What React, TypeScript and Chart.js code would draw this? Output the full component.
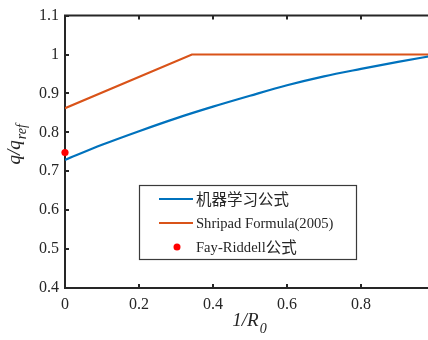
import React, { useEffect, useRef } from "react";
import { Chart, registerables } from "chart.js";

Chart.register(...registerables);

// ---- data ----
const mlX = [0, 0.1, 0.2, 0.3, 0.4, 0.5, 0.6, 0.7, 0.8, 0.9, 1.0];
const mlY = [0.729, 0.768, 0.803, 0.836, 0.866, 0.894, 0.921, 0.944, 0.963, 0.981, 0.998];
const shripadX = [0, 0.343, 1.0];
const shripadY = [0.862, 1.0, 1.0];
const fayX = [0];
const fayY = [0.748];
const legendLabels = ["机器学习公式", "Shripad Formula(2005)", "Fay-Riddell公式"];
const xTickValues = [0, 0.2, 0.4, 0.6, 0.8];
const xTickLabels = ["0", "0.2", "0.4", "0.6", "0.8"];
const yTickValues = [0.4, 0.5, 0.6, 0.7, 0.8, 0.9, 1.0, 1.1];
const yTickLabels = ["0.4", "0.5", "0.6", "0.7", "0.8", "0.9", "1", "1.1"];

const AXIS = "#262626";
const SERIF = '"Liberation Serif", "Times New Roman", serif';
const CJK = '"Noto Sans CJK SC", sans-serif';

function drawMixed(ctx: any, text: string, x: number, y: number) {
  const parts = text.split(/([\u4e00-\u9fff]+)/).filter((p) => p.length > 0);
  let cx = x;
  parts.forEach((p) => {
    const isCjk = /[\u4e00-\u9fff]/.test(p);
    ctx.font = isCjk ? "15.5px " + CJK : "14.6px " + SERIF;
    ctx.fillText(p, cx, isCjk ? y : y + 1);
    cx += ctx.measureText(p).width;
  });
}

const decor = {
  id: "decor",
  afterDraw(chart: any) {
    const ctx = chart.ctx;
    const { left, right, top, bottom } = chart.chartArea;
    const xs = chart.scales.x;
    const ys = chart.scales.y;
    ctx.save();
    ctx.strokeStyle = AXIS;
    ctx.lineWidth = 2;
    // top border
    ctx.beginPath();
    ctx.moveTo(left - 1, top);
    ctx.lineTo(right + 1, top);
    ctx.stroke();
    // right border
    ctx.beginPath();
    ctx.moveTo(right, top);
    ctx.lineTo(right, bottom);
    ctx.stroke();
    // inward ticks
    const tl = 4;
    ctx.beginPath();
    xTickValues.forEach((v) => {
      const px = Math.round(xs.getPixelForValue(v));
      ctx.moveTo(px, bottom);
      ctx.lineTo(px, bottom - tl);
      ctx.moveTo(px, top);
      ctx.lineTo(px, top + tl);
    });
    yTickValues.forEach((v) => {
      const py = Math.round(ys.getPixelForValue(v));
      ctx.moveTo(left, py);
      ctx.lineTo(left + tl, py);
      ctx.moveTo(right, py);
      ctx.lineTo(right - tl, py);
    });
    ctx.stroke();

    // axis titles
    ctx.fillStyle = AXIS;
    ctx.textBaseline = "alphabetic";
    ctx.font = "italic 19px " + SERIF;
    const main = "1/R";
    const wMain = ctx.measureText(main).width;
    ctx.font = "italic 14px " + SERIF;
    const wSub = ctx.measureText("0").width;
    const cx = (left + right) / 2 - 1;
    const startX = cx - (wMain + wSub) / 2;
    ctx.font = "italic 19px " + SERIF;
    ctx.textAlign = "left";
    ctx.fillText(main, startX, 326);
    ctx.font = "italic 14px " + SERIF;
    ctx.fillText("0", startX + wMain + 1, 333);

    // y title rotated
    ctx.save();
    ctx.translate(20, (top + bottom) / 2 - 7);
    ctx.rotate(-Math.PI / 2);
    ctx.font = "italic 19px " + SERIF;
    const yMain = "q/q";
    const wyMain = ctx.measureText(yMain).width;
    ctx.font = "italic 14px " + SERIF;
    const wySub = ctx.measureText("ref").width;
    const sy = -(wyMain + wySub) / 2;
    ctx.font = "italic 19px " + SERIF;
    ctx.fillText(yMain, sy, 0);
    ctx.font = "italic 14px " + SERIF;
    ctx.fillText("ref", sy + wyMain + 1, 6);
    ctx.restore();

    // legend
    const bx = 139.5, by = 185.5, bw = 217, bh = 74;
    ctx.fillStyle = "#ffffff";
    ctx.fillRect(bx, by, bw, bh);
    ctx.strokeStyle = "#3a3a3a";
    ctx.lineWidth = 1.2;
    ctx.strokeRect(bx, by, bw, bh);
    const rows = [199, 223, 247];
    const ds = chart.data.datasets;
    ctx.textBaseline = "middle";
    ctx.textAlign = "left";
    rows.forEach((ry, i) => {
      const d = ds[i];
      if (i < 2) {
        ctx.strokeStyle = d.borderColor;
        ctx.lineWidth = 2;
        ctx.beginPath();
        ctx.moveTo(159, ry);
        ctx.lineTo(193, ry);
        ctx.stroke();
      } else {
        ctx.fillStyle = d.backgroundColor;
        ctx.beginPath();
        ctx.arc(177, ry, 3.5, 0, Math.PI * 2);
        ctx.fill();
      }
      ctx.fillStyle = AXIS;
      drawMixed(ctx, legendLabels[i], 196, ry);
    });
    ctx.restore();
  },
};

export default function App() {
  const ref = useRef<HTMLCanvasElement | null>(null);
  useEffect(() => {
    if (!ref.current) return;
    const chart = new Chart(ref.current, {
      type: "line",
      data: {
        datasets: [
          {
            label: legendLabels[0],
            data: mlX.map((x, i) => ({ x, y: mlY[i] })),
            borderColor: "#0072BD",
            backgroundColor: "#0072BD",
            borderWidth: 2.2,
            pointRadius: 0,
            cubicInterpolationMode: "monotone",
          },
          {
            label: legendLabels[1],
            data: shripadX.map((x, i) => ({ x, y: shripadY[i] })),
            borderColor: "#D95319",
            backgroundColor: "#D95319",
            borderWidth: 2.2,
            pointRadius: 0,
            tension: 0,
          },
          {
            label: legendLabels[2],
            data: fayX.map((x, i) => ({ x, y: fayY[i] })),
            borderColor: "#FF0000",
            backgroundColor: "#FF0000",
            showLine: false,
            pointRadius: 3.6,
            pointBorderWidth: 0,
            clip: false,
          } as any,
        ],
      },
      options: {
        animation: false,
        responsive: false,
        maintainAspectRatio: false,
        layout: { padding: { top: 14, right: 10, left: 0, bottom: 0 } },
        plugins: { legend: { display: false }, tooltip: { enabled: false } },
        scales: {
          x: {
            type: "linear",
            min: 0,
            max: 1,
            grid: { display: false, drawTicks: false },
            border: { display: true, color: AXIS, width: 2 },
            afterBuildTicks: (s: any) => {
              s.ticks = xTickValues.map((v) => ({ value: v }));
            },
            afterFit: (s: any) => {
              s.height = 52;
            },
            ticks: {
              color: AXIS,
              font: { family: SERIF, size: 16 },
              padding: 7,
              maxRotation: 0,
              callback: (_v: any, i: number) => xTickLabels[i],
            },
          },
          y: {
            type: "linear",
            min: 0.4,
            max: 1.1,
            grid: { display: false, drawTicks: false },
            border: { display: true, color: AXIS, width: 2 },
            afterBuildTicks: (s: any) => {
              s.ticks = yTickValues.map((v) => ({ value: v }));
            },
            afterFit: (s: any) => {
              s.width = 65;
            },
            ticks: {
              color: AXIS,
              font: { family: SERIF, size: 16 },
              padding: 6,
              callback: (_v: any, i: number) => yTickLabels[i],
            },
          },
        },
      },
      plugins: [decor],
    } as any);
    return () => chart.destroy();
  }, []);
  return (
    <div
      style={{
        position: "fixed",
        left: 0,
        top: 0,
        width: 428,
        height: 340,
        overflow: "hidden",
        background: "#fff",
      }}
    >
      <canvas ref={ref} width={445} height={340} style={{ display: "block" }} />
    </div>
  );
}
